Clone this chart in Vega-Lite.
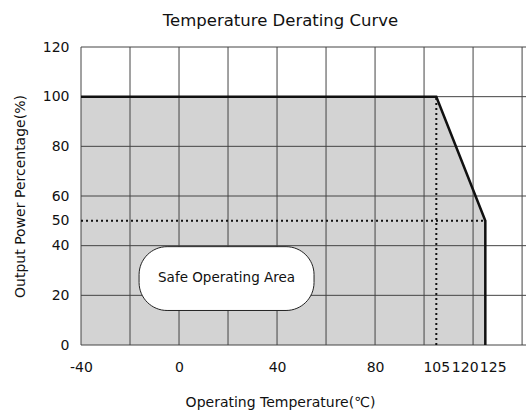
{
  "$schema": "https://vega.github.io/schema/vega-lite/v6.json",
  "width": 445,
  "height": 298,
  "autosize": {"type": "none"},
  "padding": {"left": 81, "top": 47, "right": 0, "bottom": 65},
  "background": "white",
  "config": {
    "view": {"stroke": null},
    "font": "DejaVu Sans",
    "axis": {"grid": false, "ticks": false, "domain": false, "labelFontSize": 14, "labelColor": "#111", "titleFontSize": 14, "titleFontWeight": "normal", "titleColor": "#111"}
  },
  "title": {"text": "Temperature Derating Curve", "fontSize": 16.5, "fontWeight": "normal", "font": "DejaVu Sans", "color": "#111", "anchor": "middle", "dx": -23, "offset": 11},
  "datasets": {
    "area": [{"t": -40, "p": 100}, {"t": 105, "p": 100}, {"t": 125, "p": 50}],
    "vgrid": [{"t": -40}, {"t": -20}, {"t": 0}, {"t": 20}, {"t": 40}, {"t": 60}, {"t": 80}, {"t": 100}, {"t": 120}, {"t": 140}],
    "hgrid": [{"p": 0}, {"p": 20}, {"p": 40}, {"p": 60}, {"p": 80}, {"p": 100}, {"p": 120}],
    "curve": [{"i": 1, "t": -40, "p": 100}, {"i": 2, "t": 105, "p": 100}, {"i": 3, "t": 125, "p": 50}, {"i": 4, "t": 125, "p": 0}],
    "dots": [{"t": -40, "t2": 125, "p": 50, "p2": 50}, {"t": 105, "t2": 105, "p": 0, "p2": 100}],
    "box": [{"t": -16.3, "t2": 55.1, "p": 39.6, "p2": 13.9}],
    "boxlabel": [{"t": 19.4, "p": 27, "label": "Safe Operating Area"}]
  },
  "layer": [
    {
      "data": {"name": "area"},
      "mark": {"type": "area", "color": "#d3d3d3", "opacity": 1},
      "encoding": {
        "x": {"field": "t", "type": "quantitative", "title": "Operating Temperature(℃)", "scale": {"domain": [-40, 141.6], "nice": false, "zero": false},
          "axis": {"values": [-40, 0, 40, 80, 105, 120, 125], "title": "Operating Temperature(℃)",
            "labelExpr": "datum.value == -40 ? '-40' : datum.label",
            "labelPadding": 15, "labelOverlap": false, "labelFlush": false,
            "labelAlign": {"expr": "datum.value == 120 ? 'right' : datum.value == 125 ? 'left' : 'center'"},
            "labelOffset": {"expr": "datum.value == 120 ? 5 : datum.value == 125 ? -6 : 0"},
            "titleX": 199, "titleY": 57, "titleBaseline": "middle", "titleAlign": "center"}},
        "y": {"field": "p", "type": "quantitative", "title": "Output Power Percentage(%)", "scale": {"domain": [0, 120], "nice": false},
          "axis": {"values": [0, 20, 40, 50, 60, 80, 100, 120], "title": "Output Power Percentage(%)",
            "labelPadding": 12, "titleX": -61, "titleBaseline": "middle"}},
        "y2": {"datum": 0}
      }
    },
    {
      "data": {"name": "vgrid"},
      "mark": {"type": "rule", "color": "#444", "strokeWidth": 1},
      "encoding": {"x": {"field": "t", "type": "quantitative", "title": "Operating Temperature(℃)"}}
    },
    {
      "data": {"name": "hgrid"},
      "mark": {"type": "rule", "color": "#444", "strokeWidth": 1},
      "encoding": {"y": {"field": "p", "type": "quantitative", "title": "Output Power Percentage(%)"}}
    },
    {
      "data": {"name": "dots"},
      "mark": {"type": "rule", "color": "#111", "strokeWidth": 2, "strokeDash": [2, 3]},
      "encoding": {
        "x": {"field": "t", "type": "quantitative", "title": "Operating Temperature(℃)"},
        "x2": {"field": "t2"},
        "y": {"field": "p", "type": "quantitative", "title": "Output Power Percentage(%)"},
        "y2": {"field": "p2"}
      }
    },
    {
      "data": {"name": "box"},
      "mark": {"type": "rect", "fill": "white", "stroke": "#222", "strokeWidth": 1, "cornerRadius": 28},
      "encoding": {
        "x": {"field": "t", "type": "quantitative", "title": "Operating Temperature(℃)"},
        "x2": {"field": "t2"},
        "y": {"field": "p", "type": "quantitative", "title": "Output Power Percentage(%)"},
        "y2": {"field": "p2"}
      }
    },
    {
      "data": {"name": "boxlabel"},
      "mark": {"type": "text", "fontSize": 13.5, "color": "#111", "font": "DejaVu Sans"},
      "encoding": {
        "x": {"field": "t", "type": "quantitative", "title": "Operating Temperature(℃)"},
        "y": {"field": "p", "type": "quantitative", "title": "Output Power Percentage(%)"},
        "text": {"field": "label"}
      }
    },
    {
      "data": {"name": "curve"},
      "mark": {"type": "line", "color": "#111", "strokeWidth": 2.5},
      "encoding": {
        "x": {"field": "t", "type": "quantitative", "title": "Operating Temperature(℃)"},
        "y": {"field": "p", "type": "quantitative", "title": "Output Power Percentage(%)"},
        "order": {"field": "i", "type": "quantitative"}
      }
    }
  ]
}
